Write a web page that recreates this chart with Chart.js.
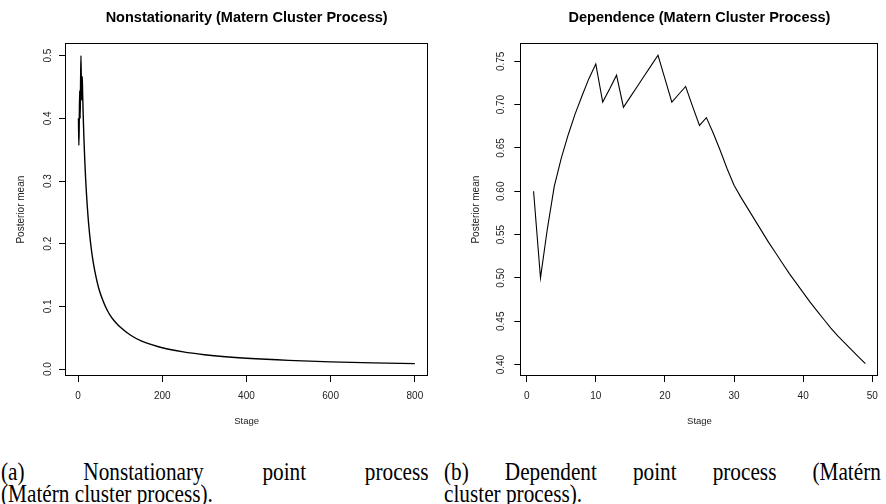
<!DOCTYPE html>
<html>
<head>
<meta charset="utf-8">
<script src="https://cdn.jsdelivr.net/npm/chart.js@4.4.1/dist/chart.umd.min.js"></script>
<style>
  body { margin: 0; background: #fff; width: 886px; height: 504px; position: relative; overflow: hidden; }
  canvas { position: absolute; top: 0; }
  #chartA { left: 0; }
  #chartB { left: 443px; }
  .cap { position: absolute; top: 460.6px; font-family: "Liberation Serif", "Times New Roman", serif; font-size: 25px; line-height: 22px; color: #000;
         transform: scaleX(0.85); transform-origin: 0 0; }
  .cap .l1 { text-align: justify; text-align-last: justify; white-space: nowrap; }
  #capA { left: 1px; width: 503px; }
  #capB { left: 444px; width: 514px; }
</style>
</head>
<body>
<canvas id="chartA" width="443" height="440"></canvas>
<canvas id="chartB" width="443" height="440"></canvas>
<div class="cap" id="capA"><div class="l1">(a) Nonstationary point process</div><div>(Matérn cluster process).</div></div>
<div class="cap" id="capB"><div class="l1">(b) Dependent point process (Matérn</div><div>cluster process).</div></div>
<script>
// Left: nonstationarity, values at selected stages
const stagesA = [1, 2, 3, 4, 5, 6, 7, 8, 9, 10, 11, 12, 13, 14, 16, 18, 20, 25, 30, 35, 40, 50, 60, 70, 80, 90, 100,
  125, 150, 175, 200, 250, 300, 350, 400, 500, 600, 700, 800];
const meanA = [0.400, 0.357, 0.400, 0.444, 0.400, 0.455, 0.500, 0.444, 0.429, 0.467, 0.438, 0.412, 0.389, 0.368,
  0.333, 0.304, 0.280, 0.233, 0.200, 0.175, 0.156, 0.127, 0.108, 0.093, 0.082, 0.074, 0.067,
  0.054, 0.045, 0.039, 0.034, 0.0275, 0.023, 0.0197, 0.0173, 0.0139, 0.0116, 0.0099, 0.0087];
const xTicksA = [0, 200, 400, 600, 800];
const yTicksA = [0, 0.1, 0.2, 0.3, 0.4, 0.5];
const yLabelsA = ["0.0", "0.1", "0.2", "0.3", "0.4", "0.5"];

// Right: dependence, stages 1..49
const stagesB = [1, 2, 3, 4, 5, 6, 7, 8, 9, 10, 11, 12, 13, 14, 15, 16, 17, 18, 19, 20, 21, 22, 23, 24, 25,
  26, 27, 28, 29, 30, 31, 32, 33, 34, 35, 36, 37, 38, 39, 40, 41, 42, 43, 44, 45, 46, 47, 48, 49];
const meanB = [0.600, 0.500, 0.557, 0.606, 0.638, 0.665, 0.689, 0.710, 0.730, 0.747, 0.703, 0.718, 0.734, 0.697,
  0.709, 0.721, 0.733, 0.745, 0.757, 0.730, 0.703, 0.712, 0.721, 0.698, 0.676,
  0.685, 0.667, 0.647, 0.626, 0.607, 0.593, 0.580, 0.567, 0.554, 0.541, 0.529, 0.517, 0.505, 0.494,
  0.483, 0.472, 0.462, 0.452, 0.442, 0.433, 0.425, 0.417, 0.409, 0.401];
const xTicksB = [0, 10, 20, 30, 40, 50];
const yTicksB = [0.40, 0.45, 0.50, 0.55, 0.60, 0.65, 0.70, 0.75];
const yLabelsB = ["0.40", "0.45", "0.50", "0.55", "0.60", "0.65", "0.70", "0.75"];

const FONT = '"Liberation Sans", Arial, Helvetica, sans-serif';

// box around the plot region, like R's bty="o"
const boxPlugin = {
  id: "box",
  afterDraw(chart) {
    const a = chart.chartArea, ctx = chart.ctx;
    ctx.save();
    ctx.strokeStyle = "#000";
    ctx.lineWidth = 1;
    ctx.strokeRect(Math.round(a.left) + 0.5, Math.round(a.top) + 0.5,
      Math.round(a.right - a.left) - 1, Math.round(a.bottom - a.top) - 1);
    ctx.restore();
  }
};

function rPlot(id, xs, ys, opts) {
  const pts = xs.map((x, i) => ({ x: x, y: ys[i] }));
  new Chart(document.getElementById(id).getContext("2d"), {
    type: "line",
    data: {
      datasets: [{
        data: pts,
        borderColor: "#000",
        borderWidth: opts.lineWidth,
        pointRadius: 0,
        fill: false,
        tension: opts.smooth ? 0.4 : 0,
        cubicInterpolationMode: opts.smooth ? "monotone" : "default"
      }]
    },
    options: {
      responsive: false,
      animation: false,
      devicePixelRatio: 1,
      layout: { padding: { left: 0, right: opts.padRight, top: 0, bottom: 0 } },
      plugins: {
        legend: { display: false },
        tooltip: { enabled: false },
        title: {
          display: true,
          text: opts.title,
          fullSize: false,
          color: "#000",
          font: { family: FONT, size: 14.5, weight: "bold" },
          padding: { top: 9.3, bottom: 16.6 }
        }
      },
      scales: {
        x: {
          type: "linear",
          min: opts.xMin, max: opts.xMax,
          afterBuildTicks: s => { s.ticks = opts.xTicks.map(v => ({ value: v })); },
          afterFit: s => { s.height = 64; },
          border: { display: false },
          grid: { display: true, drawOnChartArea: false, drawTicks: true, tickLength: 6, color: "#000" },
          ticks: { color: "#222", font: { family: FONT, size: 10 }, padding: 8, maxRotation: 0, autoSkip: false },
          title: { display: true, text: "Stage", color: "#222", font: { family: FONT, size: 9.5 }, padding: { top: 0, bottom: 13 } }
        },
        y: {
          type: "linear",
          min: opts.yMin, max: opts.yMax,
          afterBuildTicks: s => { s.ticks = opts.yTicks.map(v => ({ value: v })); },
          afterFit: s => { s.width = opts.yWidth; },
          border: { display: false },
          grid: { display: true, drawOnChartArea: false, drawTicks: true, tickLength: 6, color: "#000" },
          ticks: {
            color: "#222", font: { family: FONT, size: 10 }, padding: 3.5,
            minRotation: 90, maxRotation: 90, crossAlign: "center", autoSkip: false,
            callback: (v, i) => opts.yLabels[i]
          },
          title: { display: true, text: "Posterior mean", color: "#222", font: { family: FONT, size: 10 }, padding: { top: opts.yTitlePad, bottom: 0 } }
        }
      }
    },
    plugins: [boxPlugin]
  });
}

rPlot("chartA", stagesA, meanA, {
  title: "Nonstationarity (Matern Cluster Process)",
  lineWidth: 1.4, smooth: true,
  xMin: -30.96, xMax: 831.96, yMin: -0.0110, yMax: 0.5197,
  xTicks: xTicksA, yTicks: yTicksA, yLabels: yLabelsA,
  yWidth: 65, padRight: 14.7, yTitlePad: 15.7
});

rPlot("chartB", stagesB, meanB, {
  title: "Dependence (Matern Cluster Process)",
  lineWidth: 1.1, smooth: false,
  xMin: -0.92, xMax: 50.92, yMin: 0.3868, yMax: 0.7708,
  xTicks: xTicksB, yTicks: yTicksB, yLabels: yLabelsB,
  yWidth: 77.3, padRight: 4, yTitlePad: 26.8
});
</script>
</body>
</html>
